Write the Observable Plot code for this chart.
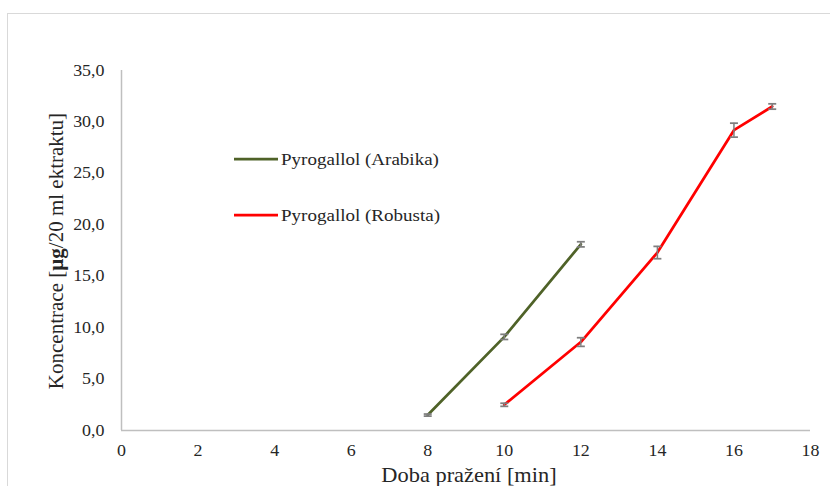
<!DOCTYPE html>
<html>
<head>
<meta charset="utf-8">
<script src="https://cdn.jsdelivr.net/npm/d3@7"></script>
<script src="https://cdn.jsdelivr.net/npm/@observablehq/plot@0.6"></script>
<style>
  html, body { margin: 0; padding: 0; background: #fff; }
  #wrap { position: relative; width: 830px; height: 486px; overflow: hidden; }
  #frame { position: absolute; left: 7px; top: 13px; width: 860px; height: 520px; border: 1.5px solid #d9d9d9; box-sizing: border-box; }
  #chart { position: absolute; left: 0; top: 0; }
</style>
</head>
<body>
<div id="wrap"><div id="frame"></div><div id="chart"></div></div>
<script>
// Roasting time [min]
const arabikaTime = [8, 10, 12];
const robustaTime = [10, 12, 14, 16, 17];
// Pyrogallol concentration [µg/20 ml extract] and standard deviation
const arabikaConc = [1.5, 9.1, 18.1];
const arabikaErr  = [0.1, 0.25, 0.25];
const robustaConc = [2.5, 8.6, 17.3, 29.2, 31.5];
const robustaErr  = [0.15, 0.42, 0.6, 0.68, 0.26];

const seriesNames = ["Pyrogallol (Arabika)", "Pyrogallol (Robusta)"];
const seriesColors = ["#4f6228", "#ff0000"];
const xTicks = [0, 2, 4, 6, 8, 10, 12, 14, 16, 18];
const yTicks = [0, 5, 10, 15, 20, 25, 30, 35];
const xTitle = "Doba pražení [min]";
const yTitleParts = [["Koncentrace [", "normal"], ["µg", "bold"], ["/20 ml ektraktu]", "normal"]];

const FONT = '"Liberation Serif", "Times New Roman", serif';
const WIDEN = 1.12; // horizontal glyph stretch of the serif text

const rows = [
  ...arabikaTime.map((t, i) => ({series: seriesNames[0], t, c: arabikaConc[i], e: arabikaErr[i]})),
  ...robustaTime.map((t, i) => ({series: seriesNames[1], t, c: robustaConc[i], e: robustaErr[i]}))
];

// horizontal cap for the error bars
const cap = {draw(ctx) { ctx.moveTo(-4, 0); ctx.lineTo(4, 0); }};
const fmt = d => d.toFixed(1).replace(".", ",");

const chart = Plot.plot({
  width: 830,
  height: 486,
  marginLeft: 121,
  marginRight: 20,
  marginTop: 70,
  marginBottom: 56,
  style: {background: "transparent"},
  x: {domain: [0, 18]},
  y: {domain: [0, 35]},
  color: {domain: seriesNames, range: seriesColors},
  marks: [
    Plot.axisX({ticks: xTicks, tickSize: 0, tickPadding: 14, fontSize: 16, label: null, fill: "#262626"}),
    Plot.axisY({ticks: yTicks, tickSize: 0, tickPadding: 17, fontSize: 16, label: null, tickFormat: fmt, fill: "#262626"}),
    Plot.ruleX([0], {stroke: "#bfbfbf", strokeWidth: 1.5}),
    Plot.ruleY([0], {stroke: "#bfbfbf", strokeWidth: 1.5}),
    Plot.line(rows, {x: "t", y: "c", z: "series", stroke: "series", strokeWidth: 2.75, strokeLinejoin: "round"}),
    Plot.ruleX(rows, {x: "t", y1: d => d.c - d.e, y2: d => d.c + d.e, stroke: "#7f7f7f", strokeWidth: 1.5}),
    Plot.dot(rows, {x: "t", y: d => d.c - d.e, symbol: cap, r: 4, stroke: "#7f7f7f", strokeWidth: 1.75, fill: "none"}),
    Plot.dot(rows, {x: "t", y: d => d.c + d.e, symbol: cap, r: 4, stroke: "#7f7f7f", strokeWidth: 1.75, fill: "none"})
  ]
});

document.getElementById("chart").append(chart);

const svg = d3.select(chart);

// x axis title
svg.append("text")
  .attr("x", 469).attr("y", 482)
  .attr("text-anchor", "middle")
  .attr("font-size", 20)
  .attr("fill", "#262626")
  .text(xTitle);

// legend
const legend = svg.append("g");
seriesNames.forEach((name, i) => {
  const y = 159 + i * 56;
  legend.append("line")
    .attr("x1", 234).attr("x2", 278).attr("y1", y).attr("y2", y)
    .attr("stroke", seriesColors[i]).attr("stroke-width", 2.75);
  legend.append("text")
    .attr("x", 281).attr("y", y).attr("dy", "0.35em")
    .attr("text-anchor", "start")
    .attr("font-size", 17).attr("fill", "#262626")
    .text(name);
});

// widen every horizontal label around its anchor point
const isNum = v => v != null && /^-?[\d.]+$/.test(String(v).trim());
svg.selectAll("text").each(function() {
  const el = d3.select(this);
  const xa = el.attr("x"), ya = el.attr("y");
  let tx = 0, ty = 0;
  if (isNum(xa)) { tx = +xa; el.attr("x", null); }
  if (isNum(ya)) { ty = +ya; el.attr("y", null); }
  const t = el.attr("transform") || "";
  el.attr("transform", `${t} translate(${tx},${ty}) scale(${WIDEN},1)`);
});

// y axis title (rotated, with bold unit)
const yt = svg.append("text")
  .attr("transform", "translate(63,251) rotate(-90)")
  .attr("text-anchor", "middle")
  .attr("font-size", 21)
  .attr("fill", "#262626");
yTitleParts.forEach(([s, w]) => yt.append("tspan").attr("font-weight", w).text(s));

svg.selectAll("text").style("font-family", FONT);
</script>
</body>
</html>
